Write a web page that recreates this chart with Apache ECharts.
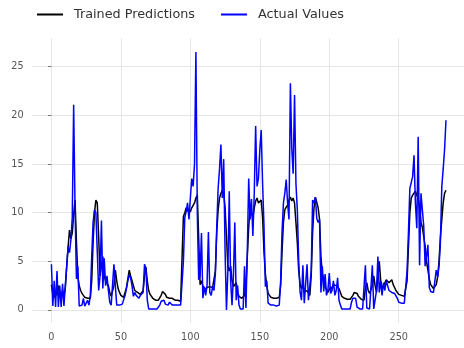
<!DOCTYPE html>
<html>
<head>
<meta charset="utf-8">
<script src="https://cdn.jsdelivr.net/npm/echarts@6/dist/echarts.min.js"></script>
<style>
html,body{margin:0;padding:0;background:#fff;}
#chart{width:464px;height:348px;}
</style>
</head>
<body>
<div id="chart"></div>
<script>
const seriesNames = ['Trained Predictions', 'Actual Values'];
const xTickValues = [0, 50, 100, 150, 200, 250];
const yTickValues = [0, 5, 10, 15, 20, 25];

const trainedPredictions = [
2.6,1.6,1.3,2.0,1.5,2.5,1.8,1.5,2.0,1.4,
2.3,4.5,6.5,8.2,7.3,7.9,9.8,11.3,7.0,3.4,
2.5,2.0,1.7,1.5,1.3,1.3,1.2,1.2,1.2,3.0,
7.0,10.0,11.3,11.0,7.5,3.5,4.5,5.5,3.5,3.0,
3.2,2.5,1.8,1.4,1.2,2.5,4.1,3.0,2.2,1.8,
1.5,1.4,1.3,1.5,2.3,3.2,4.1,3.5,3.0,2.5,
2.0,1.8,1.8,1.7,1.6,1.7,2.0,3.5,4.4,3.0,
2.0,1.6,1.4,1.2,1.1,1.0,1.0,1.0,1.2,1.5,
1.9,2.0,1.6,1.3,1.2,1.2,1.3,1.2,1.1,1.0,
1.0,1.0,0.9,0.9,1.0,9.6,10.0,10.5,10.2,10.3,
10.1,10.5,10.3,11.0,11.5,11.8,7.4,2.6,3.0,2.5,
2.1,2.2,2.3,2.5,2.4,2.3,2.3,2.4,4.0,8.0,
10.3,11.5,12.0,12.3,12.0,10.5,7.5,4.5,4.0,4.5,
3.0,2.4,2.5,2.8,1.8,1.4,1.2,1.2,1.2,1.5,
2.5,5.5,8.5,10.5,10.6,9.5,10.5,11.2,11.5,11.0,
11.2,11.3,9.5,6.0,3.7,2.5,1.7,1.5,1.3,1.2,
1.2,1.2,1.2,1.2,1.3,2.5,6.0,9.0,10.3,10.5,
10.8,11.3,11.6,11.2,11.5,11.0,9.0,6.9,4.0,2.7,
2.2,2.5,1.8,1.6,2.0,1.8,1.5,3.5,8.0,10.5,
11.6,11.5,10.5,9.3,5.5,3.7,3.2,2.4,2.2,1.8,
2.0,2.4,2.1,2.6,2.8,2.5,2.6,2.2,1.8,1.4,
1.2,1.2,1.1,1.1,1.1,1.1,1.2,1.5,1.8,1.9,
1.7,1.4,1.2,1.1,1.0,1.0,2.3,2.8,2.0,1.7,
1.6,2.5,3.5,2.5,1.8,3.5,5.0,3.0,2.2,2.5,
2.8,3.1,3.2,2.8,2.6,3.1,2.6,2.4,2.0,1.8,
1.6,1.5,1.5,1.4,1.4,1.4,3.0,6.5,10.0,11.5,
11.8,12.0,12.2,11.8,11.5,10.5,9.0,8.5,7.5,6.6,
5.0,4.1,3.2,2.6,2.4,2.2,2.1,2.6,3.4,5.0,
7.5,9.3,11.0,12.0,12.3
];

const actualValues = [
4.7,0.4,3.0,0.3,4.0,0.3,2.5,0.3,2.7,0.4,
2.5,4.5,6.5,5.9,7.2,9.5,21.1,10.5,3.2,4.5,
0.4,0.4,0.5,1.2,0.4,0.4,1.0,0.5,1.5,5.5,
9.0,10.3,10.0,6.0,2.0,3.5,9.2,2.2,5.3,2.5,
3.5,2.0,0.8,0.5,0.6,4.7,2.5,0.5,0.5,0.5,
0.5,0.6,0.8,1.5,2.2,3.0,3.6,3.3,2.5,1.4,
1.8,1.5,1.5,1.2,1.5,1.3,1.8,4.7,4.3,1.0,
0.1,0.1,0.1,0.1,0.1,0.1,0.1,0.1,0.5,0.9,
1.0,1.0,0.6,0.5,0.5,0.8,1.0,0.5,0.5,0.5,
0.5,0.5,0.5,0.5,0.6,5.0,9.5,10.1,11.0,9.3,
11.5,13.5,12.7,15.0,26.5,10.0,3.1,3.5,7.9,1.2,
2.4,1.5,2.5,8.0,1.8,1.5,2.4,2.0,3.7,8.5,
12.5,14.5,17.0,11.5,15.5,6.0,0.0,4.0,12.2,3.0,
0.5,3.5,9.0,1.0,2.5,0.5,0.1,0.1,0.1,4.5,
0.2,6.0,13.5,9.3,11.4,7.6,12.0,18.9,12.7,13.5,
16.5,18.5,13.0,8.6,2.4,3.0,0.7,0.5,0.5,0.5,
0.5,0.5,0.4,0.4,0.5,3.0,8.0,11.0,12.0,13.4,
11.0,9.3,23.3,16.6,14.0,22.1,13.0,10.3,5.0,1.8,
1.0,4.6,0.7,0.7,4.7,1.0,0.8,4.0,11.3,11.0,
11.6,9.4,9.0,9.3,1.8,4.5,1.9,3.7,1.5,2.0,
3.8,1.7,2.0,3.0,1.5,2.0,3.3,1.0,0.5,0.1,
0.1,0.1,0.1,0.1,0.1,0.1,0.8,1.2,1.3,1.2,
0.3,0.1,0.1,0.1,0.1,0.1,4.6,0.2,0.1,0.1,
0.2,4.6,0.1,0.1,2.0,5.5,1.8,3.0,1.5,2.8,
2.0,3.0,2.5,2.0,2.2,1.8,1.6,1.7,1.5,1.2,
0.8,0.7,0.7,0.7,0.7,0.8,4.0,8.0,12.5,12.7,
13.7,15.9,11.0,8.4,17.8,4.6,12.0,10.3,8.6,4.5,
5.5,6.7,2.3,1.9,1.8,1.8,1.7,4.1,3.4,4.5,
7.0,12.7,14.5,16.5,19.5
];

const toPairs = arr => arr.map((v, i) => [i, v]);

const chart = echarts.init(document.getElementById('chart'), null, {renderer: 'canvas'});
const FONT = 'DejaVu Sans';
chart.setOption({
  animation: false,
  backgroundColor: '#ffffff',
  textStyle: {fontFamily: FONT},
  legend: {
    left: 37,
    top: 8,
    padding: 0,
    itemWidth: 26,
    itemHeight: 2,
    itemGap: 26,
    icon: 'rect',
    textStyle: {fontFamily: FONT, fontSize: 12.8, color: '#333333', padding: [0, 0, 0, 6]},
    data: [
      {name: seriesNames[0], itemStyle: {color: '#000000'}},
      {name: seriesNames[1], itemStyle: {color: '#0000ff'}}
    ]
  },
  grid: {
    left: 31.7,
    top: 38.5,
    width: 434,
    height: 284.4,
    containLabel: false,
    outerBoundsMode: 'none'
  },
  xAxis: {
    type: 'value',
    min: -14.2,
    max: 298.2,
    axisLine: {show: false},
    axisTick: {show: false, customValues: xTickValues},
    axisLabel: {
      customValues: xTickValues,
      fontFamily: FONT, fontSize: 9.7, color: '#555555', margin: 10
    },
    splitLine: {show: true, lineStyle: {color: '#e6e6e6', width: 1}}
  },
  yAxis: {
    type: 'value',
    min: -1.33,
    max: 27.9,
    axisLine: {show: false},
    axisTick: {show: true, length: 3.5, customValues: yTickValues, lineStyle: {color: '#777777', width: 1}},
    axisLabel: {
      customValues: yTickValues,
      fontFamily: FONT, fontSize: 9.7, color: '#555555', margin: 8
    },
    splitLine: {show: true, lineStyle: {color: '#e6e6e6', width: 1}}
  },
  series: [
    {
      name: seriesNames[0],
      type: 'line',
      data: toPairs(trainedPredictions),
      showSymbol: false,
      symbol: 'none',
      lineStyle: {color: '#000000', width: 1.5},
      itemStyle: {color: '#000000'}
    },
    {
      name: seriesNames[1],
      type: 'line',
      data: toPairs(actualValues),
      showSymbol: false,
      symbol: 'none',
      lineStyle: {color: '#0000ff', width: 1.5},
      itemStyle: {color: '#0000ff'}
    }
  ]
});
</script>
</body>
</html>
